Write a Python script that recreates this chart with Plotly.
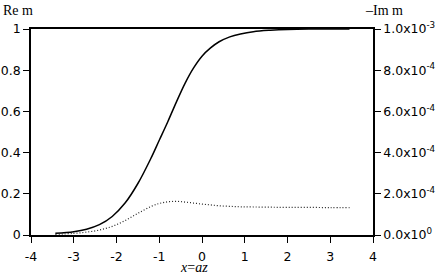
import plotly.graph_objects as go

# x = a z
x_vals = [-3.43, -3.0, -2.7, -2.4, -2.1, -1.8, -1.5, -1.2, -1.0, -0.8, -0.6, -0.4,
          -0.2, 0.0, 0.2, 0.4, 0.65, 0.9, 1.2, 1.6, 2.0, 2.5, 3.0, 3.45]
# Re m (left axis)
re_m = [0.008, 0.016, 0.028, 0.05, 0.09, 0.155, 0.25, 0.37, 0.46, 0.55, 0.645, 0.735,
        0.81, 0.868, 0.908, 0.938, 0.962, 0.976, 0.987, 0.994, 0.998, 1.0, 1.0, 1.0]
# -Im m (right axis)
im_m = [0.3e-5, 0.8e-5, 1.4e-5, 2.4e-5, 4.2e-5, 7.0e-5, 1.05e-4, 1.38e-4, 1.53e-4, 1.61e-4,
        1.63e-4, 1.60e-4, 1.55e-4, 1.50e-4, 1.46e-4, 1.42e-4, 1.39e-4, 1.37e-4, 1.36e-4,
        1.35e-4, 1.34e-4, 1.34e-4, 1.33e-4, 1.33e-4]

x_ticks = [-4, -3, -2, -1, 0, 1, 2, 3, 4]
x_tick_text = ["-4", "-3", "-2", "-1", "0", "1", "2", "3", "4"]
y2_ticks = [0, 2e-4, 4e-4, 6e-4, 8e-4, 1e-3]
y2_tick_text = ["0.0x10<sup>0</sup>", "2.0x10<sup>-4</sup>", "4.0x10<sup>-4</sup>",
                "6.0x10<sup>-4</sup>", "8.0x10<sup>-4</sup>", "1.0x10<sup>-3</sup>"]

W, H = 436, 276
L, R, T, B = 31, 63, 29, 41

fig = go.Figure()
fig.add_trace(go.Scatter(x=x_vals, y=re_m, mode="lines", line_shape="spline",
                         line=dict(color="black", width=1.5), yaxis="y"))
fig.add_trace(go.Scatter(x=x_vals, y=im_m, mode="lines", line_shape="spline",
                         line=dict(color="#222", width=1.2, dash="1px,2px"), yaxis="y2"))

tick_font = dict(family="DejaVu Sans", size=12.5, color="black")
axis_style = dict(showline=True, linecolor="black", linewidth=1.5, ticks="outside",
                  ticklen=6, tickcolor="black", tickwidth=1, showgrid=False,
                  zeroline=False, tickfont=tick_font, automargin=False)
fig.update_layout(
    template="simple_white",
    width=W, height=H,
    margin=dict(l=L, r=R, t=T, b=B),
    plot_bgcolor="white", paper_bgcolor="white",
    showlegend=False,
    xaxis=dict(range=[-4, 4], tickvals=x_ticks, ticktext=x_tick_text, mirror=True,
               ticklabelstandoff=3, **axis_style),
    yaxis=dict(range=[0, 1], dtick=0.2, **axis_style),
    yaxis2=dict(range=[0, 1e-3], overlaying="y", side="right", tickvals=y2_ticks,
                ticktext=y2_tick_text, **axis_style),
)
fig.update_yaxes(ticklen=8, selector=dict(side="left"))

serif = dict(family="Liberation Serif, Times New Roman", size=14, color="black")
plot_w, plot_h = W - L - R, H - T - B


def px_to_paper(px, py):
    return (px - L) / plot_w, (H - B - py) / plot_h


for text, (px, py), anchor, vanchor in [
    ("Re m", (1, 1), "left", "top"),
    ("\u2013Im m", (363, 1), "left", "top"),
    ("<i>x</i>=<i>az</i>", (194, 277), "center", "bottom"),
]:
    ax, ay = px_to_paper(px, py)
    fig.add_annotation(text=text, x=ax, y=ay, xref="paper", yref="paper",
                       showarrow=False, font=serif, xanchor=anchor, yanchor=vanchor)

# drop the default page margin so the figure sits at the window's corner
fig.write_html("out.html", config={"displayModeBar": False},
               post_script="document.body.style.margin='0';")
